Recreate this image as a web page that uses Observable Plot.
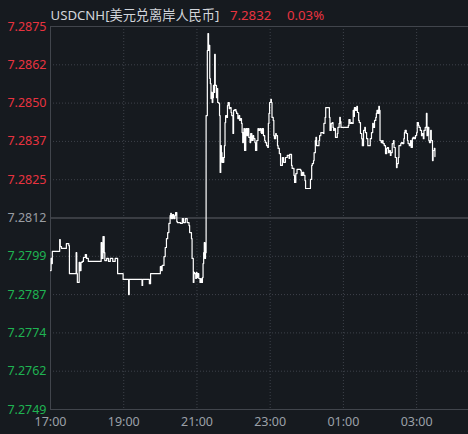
<!DOCTYPE html>
<html>
<head>
<meta charset="utf-8">
<script src="https://cdn.jsdelivr.net/npm/d3@7"></script>
<script src="https://cdn.jsdelivr.net/npm/@observablehq/plot@0.6"></script>
<style>
  html, body { margin: 0; padding: 0; background: #161a1f; }
  #wrap { position: relative; width: 468px; height: 434px; overflow: hidden; }
  #title { position: absolute; top: 8px; left: 0; width: 468px; height: 20px;
           font-family: "Noto Sans", "Noto Sans CJK SC", sans-serif; font-size: 13.2px; line-height: 14px; white-space: nowrap; }
  #title span { position: absolute; top: 0; }
</style>
</head>
<body>
<div id="wrap">
  <div id="chart"></div>
  <div id="title"></div>
</div>
<script>
// ---- data ----
const symbol = "USDCNH[美元兑离岸人民币]";
const prevClose = 7.2812;
const lastPrice = 7.2832;
const changePct = "0.03%";
const yTickValues = [7.2749, 7.27616, 7.27742, 7.27868, 7.27994, 7.2812, 7.28246, 7.28372, 7.28498, 7.28624, 7.2875];
const xTickMinutes = [0, 120, 240, 360, 480, 600];           // minutes after 17:00
const xTickLabels = ["17:00", "19:00", "21:00", "23:00", "01:00", "03:00"];
const sessionMinutes = 685;                                     // visible span after 17:00

// minutes after 17:00
const minutes = [0,1,2,3,14,15,16,18,25,26,28,30,31,41,42,43,44,46,47,48,50,52,54,57,59,62,82,83,84,86,88,89,92,95,98,102,106,109,
110,118,119,127,128,129,149,150,151,161,162,164,179,180,182,183,186,188,190,192,194,196,197,198,200,202,204,205,207,208,213,216,218,221,224,227,228,231,232,234,
235,236,238,239,240,241,243,245,246,247,249,250,251,252,253,254,255,257,258,259,260,261,262,263,264,265,266,267,268,269,270,272,273,274,276,277,278,279,280,281,
282,283,284,285,286,287,289,290,291,293,294,296,297,299,300,302,304,305,307,309,310,311,313,314,315,316,317,318,320,322,323,325,327,328,330,332,333,335,336,338,
340,341,343,345,346,347,349,351,352,354,356,357,358,359,361,362,363,365,366,367,369,370,372,373,375,377,380,382,385,388,391,392,395,396,399,400,402,404,410,411,
413,415,417,418,425,426,428,429,431,432,434,435,436,438,440,441,443,445,447,448,450,451,456,457,458,460,462,463,464,465,467,468,470,471,473,474,475,476,478,486,
488,489,491,493,494,496,497,498,500,502,503,505,506,508,510,511,513,515,516,518,520,523,524,526,528,529,531,533,534,535,537,538,539,540,542,544,545,547,549,551,
552,554,555,557,558,560,562,563,565,567,568,570,571,574,575,577,579,580,581,583,585,586,588,590,591,593,594,596,598,600,601,603,604,606,608,609,611,612,614,616,
617,618,620,621,623,624,626,627,629,630];

const prices = [7.27947,7.27987,7.27970,7.28010,7.28010,7.28049,7.28026,7.28020,7.28020,7.28036,7.28036,7.28029,7.27937,7.27937,7.28006,7.27937,7.27908,7.27908,7.27974,7.27947,7.27974,7.27977,7.27990,7.28000,7.27987,7.27977,7.27977,7.28039,7.27987,7.28059,7.28006,7.27980,7.27987,7.27977,7.27987,7.27977,7.27987,7.27987,
7.27937,7.27937,7.27918,7.27918,7.27868,7.27918,7.27918,7.27898,7.27918,7.27918,7.27904,7.27937,7.27937,7.27960,7.27947,7.27964,7.27993,7.28023,7.28052,7.28072,7.28102,7.28128,7.28135,7.28118,7.28131,7.28118,7.28128,7.28138,7.28108,7.28105,7.28102,7.28118,7.28105,7.28118,7.28105,7.28095,7.28072,7.28052,7.27987,7.27908,
7.27941,7.27937,7.27921,7.27941,7.27924,7.27937,7.27921,7.27908,7.27921,7.27908,7.27924,7.27970,7.28006,7.28039,7.27987,7.28006,7.28457,7.28671,7.28727,7.28671,7.28688,7.28579,7.28562,7.28513,7.28533,7.28500,7.28516,7.28556,7.28533,7.28658,7.28556,7.28516,7.28546,7.28500,7.28497,7.28457,7.28270,7.28358,7.28335,7.28303,
7.28319,7.28303,7.28319,7.28358,7.28434,7.28457,7.28451,7.28490,7.28500,7.28480,7.28483,7.28467,7.28457,7.28398,7.28474,7.28477,7.28470,7.28464,7.28447,7.28457,7.28441,7.28447,7.28431,7.28401,7.28368,7.28401,7.28414,7.28342,7.28414,7.28391,7.28414,7.28385,7.28368,7.28398,7.28375,7.28391,7.28381,7.28368,7.28342,7.28375,
7.28414,7.28408,7.28414,7.28401,7.28398,7.28414,7.28391,7.28375,7.28368,7.28358,7.28352,7.28431,7.28464,7.28500,7.28510,7.28500,7.28451,7.28441,7.28391,7.28381,7.28398,7.28391,7.28358,7.28349,7.28332,7.28293,7.28319,7.28303,7.28319,7.28326,7.28316,7.28329,7.28293,7.28283,7.28260,7.28237,7.28266,7.28280,7.28276,7.28260,
7.28270,7.28260,7.28243,7.28217,7.28217,7.28247,7.28293,7.28299,7.28309,7.28335,7.28375,7.28385,7.28358,7.28358,7.28375,7.28391,7.28401,7.28401,7.28398,7.28431,7.28451,7.28483,7.28483,7.28451,7.28408,7.28431,7.28434,7.28418,7.28408,7.28414,7.28385,7.28385,7.28398,7.28418,7.28431,7.28451,7.28437,7.28418,7.28418,7.28418,
7.28424,7.28444,7.28431,7.28434,7.28431,7.28474,7.28454,7.28483,7.28474,7.28487,7.28467,7.28441,7.28434,7.28398,7.28381,7.28358,7.28408,7.28418,7.28401,7.28381,7.28358,7.28358,7.28381,7.28401,7.28431,7.28418,7.28441,7.28451,7.28464,7.28474,7.28464,7.28487,7.28474,7.28375,7.28368,7.28375,7.28365,7.28358,7.28332,7.28349,
7.28352,7.28335,7.28342,7.28326,7.28335,7.28365,7.28375,7.28352,7.28319,7.28286,7.28299,7.28319,7.28358,7.28365,7.28368,7.28365,7.28381,7.28401,7.28408,7.28398,7.28375,7.28365,7.28358,7.28375,7.28352,7.28381,7.28385,7.28381,7.28391,7.28401,7.28434,7.28424,7.28418,7.28408,7.28391,7.28398,7.28381,7.28408,7.28418,7.28464,
7.28391,7.28418,7.28375,7.28368,7.28408,7.28375,7.28309,7.28342,7.28349,7.28322];

// ---- styles ----
const bg = "#161a1f";
const red = "#e8333f";
const green = "#1fb352";
const neutral = "#9a9da3";
const gridColor = "#3e424a";
const frameColor = "#41454c";
const font = "'Noto Sans', 'Noto Sans CJK SC', sans-serif";

const series = minutes.map((m, i) => ({m, p: prices[i]}));
const yMin = yTickValues[0], yMax = yTickValues[yTickValues.length - 1];
const upper = yTickValues.filter(v => v > prevClose + 1e-9);
const lower = yTickValues.filter(v => v < prevClose - 1e-9);
const dottedY = yTickValues.filter(v => v !== yMin && v !== yMax && Math.abs(v - prevClose) > 1e-9);
const fmt = d => d.toFixed(4);

const chart = Plot.plot({
  width: 468,
  height: 434,
  marginTop: 26,
  marginBottom: 25,
  marginLeft: 50,
  marginRight: 0,
  style: {background: bg, fontFamily: font, fontSize: "12.5px", overflow: "visible"},
  x: {domain: [0, sessionMinutes], axis: null},
  y: {domain: [yMin, yMax], axis: null},
  marks: [
    Plot.ruleY(dottedY, {stroke: gridColor, strokeDasharray: "1,2"}),
    Plot.ruleX(xTickMinutes.slice(1), {stroke: gridColor, strokeDasharray: "1,2"}),
    Plot.ruleY([prevClose], {stroke: "#3a3d43", strokeWidth: 2}),
    Plot.ruleY([yMin, yMax], {stroke: frameColor}),
    Plot.ruleX([0], {stroke: frameColor}),
    Plot.line(series, {x: "m", y: "p", stroke: "#ffffff", strokeWidth: 1.2, curve: "step-after"}),
    Plot.axisY(upper, {tickSize: 0, tickPadding: 4, fill: red, tickFormat: fmt, label: null}),
    Plot.axisY([prevClose], {tickSize: 0, tickPadding: 4, fill: neutral, tickFormat: fmt, label: null}),
    Plot.axisY(lower, {tickSize: 0, tickPadding: 4, fill: green, tickFormat: fmt, label: null}),
    Plot.axisX(xTickMinutes, {tickSize: 0, tickPadding: 8, fill: "#9ba0a8", label: null,
      tickFormat: d => xTickLabels[xTickMinutes.indexOf(d)]})
  ]
});
document.getElementById("chart").appendChild(chart);

const title = document.getElementById("title");
[[symbol, "#d2d5da", 50.5], [lastPrice.toFixed(4), red, 230], [changePct, red, 287]].forEach(([t, c, x]) => {
  const s = document.createElement("span");
  s.textContent = t; s.style.color = c; s.style.left = x + "px";
  title.appendChild(s);
});
</script>
</body>
</html>
